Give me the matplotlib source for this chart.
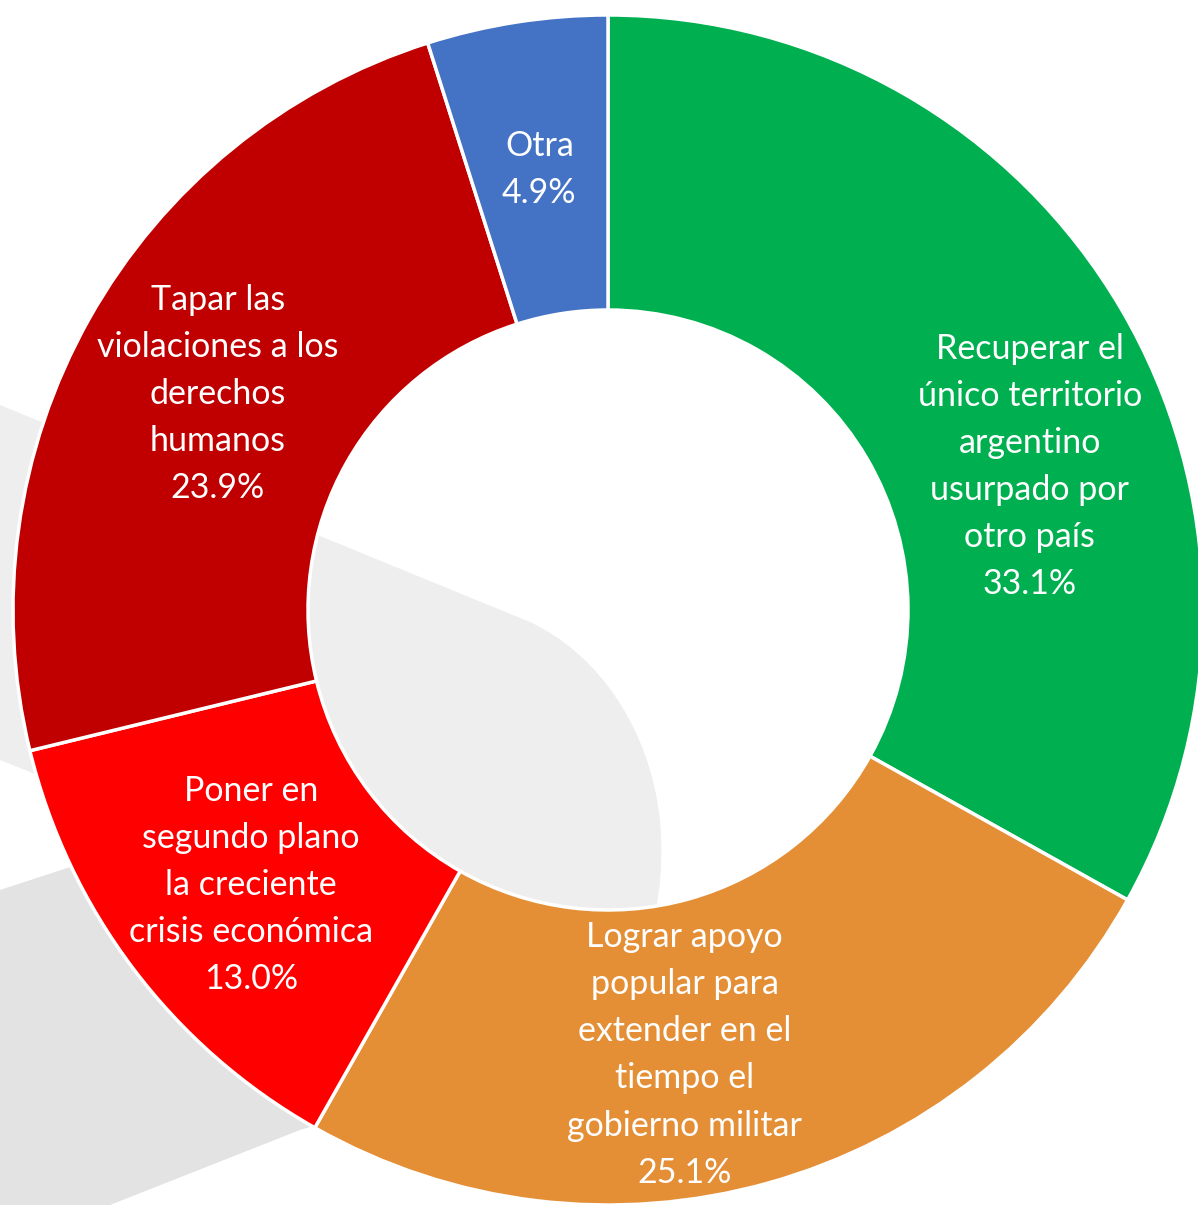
import matplotlib.pyplot as plt
import numpy as np
from matplotlib.path import Path
from matplotlib.patches import PathPatch, Polygon

W, H = 1198, 1205

labels = ["Recuperar el\núnico territorio\nargentino\nusurpado por\notro país",
          "Lograr apoyo\npopular para\nextender en el\ntiempo el\ngobierno militar",
          "Poner en\nsegundo plano\nla creciente\ncrisis económica",
          "Tapar las\nviolaciones a los\nderechos\nhumanos",
          "Otra"]
values = [33.1, 25.1, 13.0, 23.9, 4.9]
colors = ["#00B050", "#E48E36", "#FF0000", "#C00000", "#4472C4"]

# label nudges (pixels) where the box doesn't fit at mid radius
nudge = [(36, -83), (-44, -14), (0, -5), (0, -3), (0, -2)]

fig = plt.figure(figsize=(W / 100, H / 100), dpi=100)
ax = fig.add_axes([0, 0, 1, 1])

cx, cy = 608, H - 610
R, r = 595, 300

# decorative grey swoosh behind the ring (y given top-down)
def flip(pts):
    return [(x, H - y) for x, y in pts]

verts = flip([(0, 405), (530, 622),
              (600, 655), (650, 730), (660, 820),
              (665, 880), (655, 915), (650, 935),
              (600, 1000), (0, 760), (0, 405)])
codes = [Path.MOVETO, Path.LINETO,
         Path.CURVE4, Path.CURVE4, Path.CURVE4,
         Path.CURVE4, Path.CURVE4, Path.CURVE4,
         Path.LINETO, Path.LINETO, Path.CLOSEPOLY]
ax.add_patch(PathPatch(Path(verts, codes), facecolor="#EEEEEE", edgecolor="none", zorder=0))
ax.add_patch(Polygon(flip([(0, 890), (330, 782), (400, 1100), (300, 1130),
                           (110, 1205), (0, 1205)]),
                     closed=True, facecolor="#E3E3E3", edgecolor="none", zorder=0))

wedges, _ = ax.pie(values, colors=colors, startangle=90, counterclock=False,
                   radius=R, center=(cx, cy), frame=True,
                   wedgeprops=dict(width=R - r, edgecolor="white", linewidth=2.5))
ax.set_xlim(0, W)
ax.set_ylim(0, H)
ax.axis("off")

for w, lab, v, (dx, dy) in zip(wedges, labels, values, nudge):
    ang = np.deg2rad((w.theta1 + w.theta2) / 2)
    rm = (R + r) / 2
    x = cx + rm * np.cos(ang) + dx
    y = cy + rm * np.sin(ang) + dy
    ax.text(x, y, f"{lab}\n{v:.1f}%", ha="center", va="center", color="white",
            fontsize=24.5, family="Lato", linespacing=1.58, zorder=5)

fig.savefig("out.png", dpi=100)
